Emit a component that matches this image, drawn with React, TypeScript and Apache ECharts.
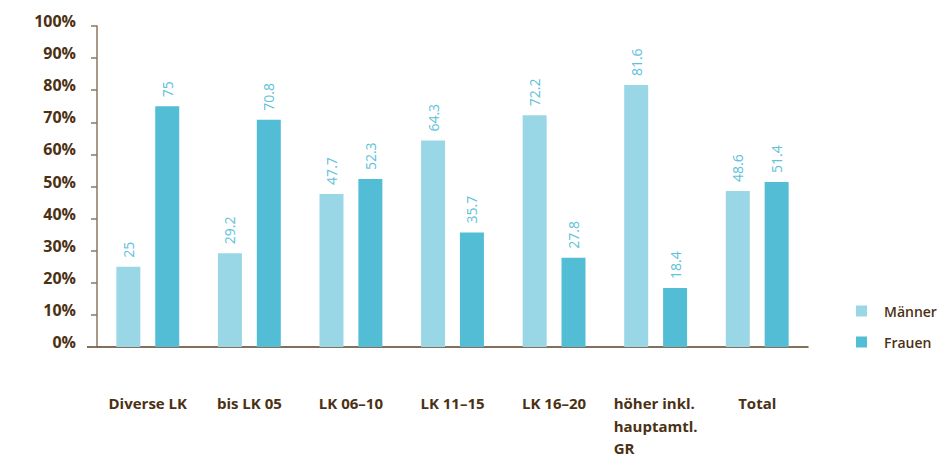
import React, { useEffect, useRef } from "react";
import * as echarts from "echarts";

const categories = ["Diverse LK", "bis LK 05", "LK 06–10", "LK 11–15", "LK 16–20", "höher inkl.\nhauptamtl.\nGR", "Total"];
const maenner = [25, 29.2, 47.7, 64.3, 72.2, 81.6, 48.6];
const frauen = [75, 70.8, 52.3, 35.7, 27.8, 18.4, 51.4];
const yTicks = [0, 10, 20, 30, 40, 50, 60, 70, 80, 90, 100];

const BROWN = "#4b3114";
const FONT = "'Open Sans', Lato, sans-serif";
const GRID = { left: 89, right: 131, top: 18, bottom: 113 };
const HEIGHT = 452;

export default function App() {
  const ref = useRef<HTMLDivElement>(null);
  useEffect(() => {
    if (!ref.current) return;
    const chart = echarts.init(ref.current, null, { renderer: "svg" });
    const labelCfg = {
      show: true,
      position: "top",
      rotate: 90,
      align: "left",
      verticalAlign: "middle",
      distance: 9,
      color: "#5cc1da",
      fontSize: 14,
      fontFamily: FONT,
    };
    const axisY = HEIGHT - GRID.bottom;
    chart.setOption({
      animation: false,
      textStyle: { fontFamily: FONT },
      grid: { ...GRID, outerBoundsMode: "none", containLabel: false },
      graphic: [
        {
          type: "line",
          shape: { x1: GRID.left - 10, y1: axisY, x2: GRID.left, y2: axisY },
          style: { stroke: "#5a4126", lineWidth: 1.5 },
          silent: true,
        },
      ],
      legend: {
        orient: "vertical",
        left: 843,
        top: 291,
        itemWidth: 11,
        itemHeight: 11,
        itemGap: 17,
        icon: "rect",
        textStyle: { color: BROWN, fontSize: 14, fontWeight: 600, fontFamily: FONT, padding: [0, 0, 0, 12] },
        data: ["Männer", "Frauen"],
      },
      xAxis: {
        type: "category",
        data: categories,
        axisLine: { lineStyle: { color: "#5a4126", width: 1.5 } },
        axisTick: { length: 10, lineStyle: { color: "#9a8c7c", width: 1.5 } },
        axisLabel: {
          margin: 45,
          interval: 0,
          color: BROWN,
          fontSize: 15,
          fontWeight: "bold",
          fontFamily: FONT,
          lineHeight: 22.5,
          formatter: (v: string) =>
            v
              .split("\n")
              .map((l) => (v.includes("\n") ? `{a|${l}}` : `{b|${l}}`))
              .join("\n"),
          rich: {
            a: { width: 84, align: "left", color: BROWN, fontSize: 15, fontWeight: "bold", fontFamily: FONT, lineHeight: 22.5 },
            b: { color: BROWN, fontSize: 15, fontWeight: "bold", fontFamily: FONT, lineHeight: 22.5 },
          },
        },
      },
      yAxis: {
        type: "value",
        min: yTicks[0],
        max: yTicks[yTicks.length - 1],
        interval: 10,
        axisLine: { show: true, lineStyle: { color: "#8a7660", width: 1.5 } },
        axisTick: { show: true, length: 6, lineStyle: { color: "#8a7660", width: 1.5 } },
        splitLine: { show: false },
        axisLabel: {
          margin: 21,
          color: BROWN,
          fontSize: 16,
          fontWeight: "bold",
          fontFamily: FONT,
          verticalAlign: "bottom",
          lineHeight: 10,
          formatter: (v: number) => `${v}%`,
        },
      },
      series: [
        {
          name: "Männer",
          type: "bar",
          data: maenner,
          barWidth: 24,
          barGap: "62%",
          itemStyle: { color: "#9ad7e6" },
          label: labelCfg,
        },
        {
          name: "Frauen",
          type: "bar",
          data: frauen,
          barWidth: 24,
          itemStyle: { color: "#53bdd5" },
          label: labelCfg,
        },
      ],
    });
    return () => chart.dispose();
  }, []);
  return <div ref={ref} style={{ width: 931, height: HEIGHT }} />;
}
